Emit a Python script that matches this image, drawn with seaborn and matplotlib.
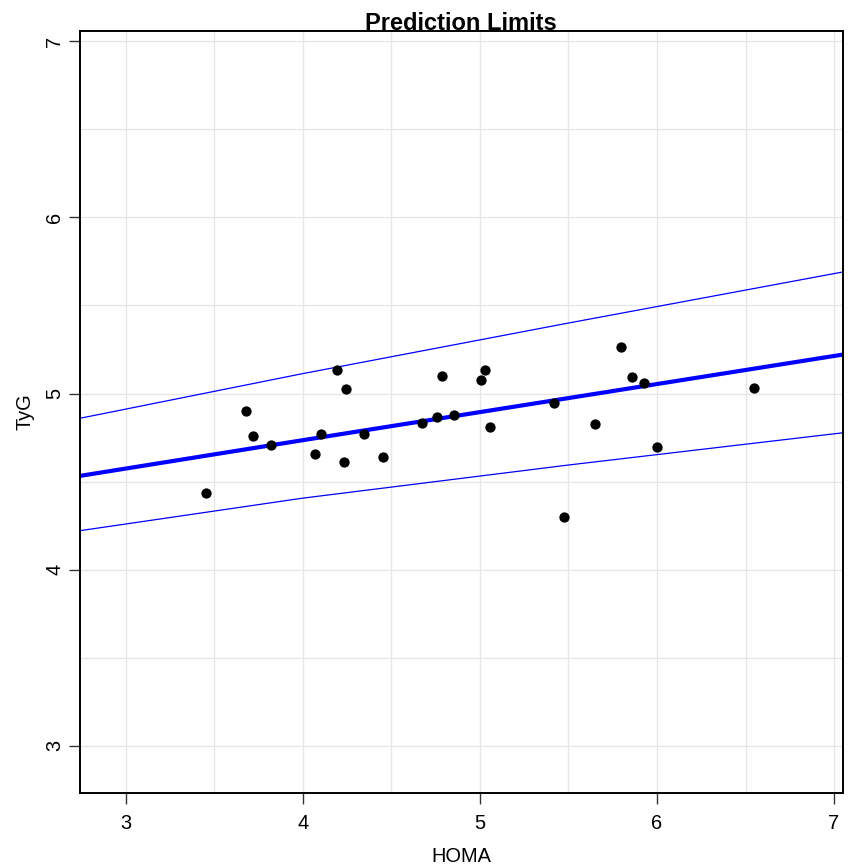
import numpy as np
import pandas as pd
import matplotlib
matplotlib.use('Agg')
import matplotlib.pyplot as plt
import seaborn as sns

# data
homa = [3.452, 3.678, 3.718, 3.820, 4.069, 4.101, 4.193, 4.231, 4.246, 4.346,
        4.453, 4.673, 4.758, 4.786, 4.852, 5.004, 5.028, 5.057, 5.416, 5.473,
        5.648, 5.795, 5.857, 5.929, 6.002, 6.547]
tyg = [4.435, 4.902, 4.756, 4.705, 4.656, 4.771, 5.134, 4.611, 5.025, 4.771,
       4.641, 4.830, 4.866, 5.099, 4.879, 5.076, 5.136, 4.807, 4.946, 4.299,
       4.828, 5.263, 5.091, 5.061, 4.698, 5.032]

# fitted line and prediction limits, read at these HOMA values
line_x = [2.74, 4.0, 5.5, 7.05]
fit_y = [4.532, 4.735, 4.974, 5.221]
upr_y = [4.859, 5.113, 5.400, 5.690]
lwr_y = [4.221, 4.406, 4.594, 4.777]

x_ticks = [3, 4, 5, 6, 7]
y_ticks = [3, 4, 5, 6, 7]
x_lim = (2.74, 7.05)
y_lim = (2.733, 7.057)

sns.set_theme(style='white')
plt.rcParams['font.family'] = ['Liberation Sans', 'DejaVu Sans']
plt.rcParams['text.color'] = 'black'
plt.rcParams['axes.labelcolor'] = 'black'
plt.rcParams['xtick.color'] = 'black'
plt.rcParams['ytick.color'] = 'black'

df = pd.DataFrame({'HOMA': homa, 'TyG': tyg})
lines = pd.DataFrame({'x': line_x, 'fit': fit_y, 'upr': upr_y, 'lwr': lwr_y})

fig = plt.figure(figsize=(8.48, 8.68), dpi=100)
ax = fig.add_axes([0.094, 0.0866, 0.9, 0.8775])

# grid at every half unit
for v in np.arange(3, 7.01, 0.5):
    ax.axvline(v, color='#e6e6e6', lw=1.0, zorder=0)
    ax.axhline(v, color='#e6e6e6', lw=1.0, zorder=0)

sns.lineplot(data=lines, x='x', y='upr', color='blue', lw=0.9, ax=ax)
sns.lineplot(data=lines, x='x', y='lwr', color='blue', lw=0.9, ax=ax)
sns.lineplot(data=lines, x='x', y='fit', color='blue', lw=3.0, ax=ax)
sns.scatterplot(data=df, x='HOMA', y='TyG', color='black', s=55, edgecolor='black',
                linewidth=0, ax=ax, zorder=5)

ax.set_xlim(*x_lim)
ax.set_ylim(*y_lim)
ax.set_xticks(x_ticks)
ax.set_yticks(y_ticks)
ax.tick_params(direction='out', length=8, width=1.0, color='#333333',
               labelsize=14.4, bottom=True, left=True)
ax.tick_params(axis='x', pad=7)
ax.tick_params(axis='y', pad=3)
for lab in ax.get_yticklabels():
    lab.set_rotation(90)
    lab.set_va('center')
for sp in ax.spines.values():
    sp.set_color('black')
    sp.set_linewidth(1.4)

ax.set_xlabel('HOMA', fontsize=14.4, labelpad=10)
ax.set_ylabel('TyG', fontsize=14.4, labelpad=8)
ax.set_title('Prediction Limits', fontsize=17, fontweight='bold', pad=1)

fig.savefig('out.png', dpi=100)
